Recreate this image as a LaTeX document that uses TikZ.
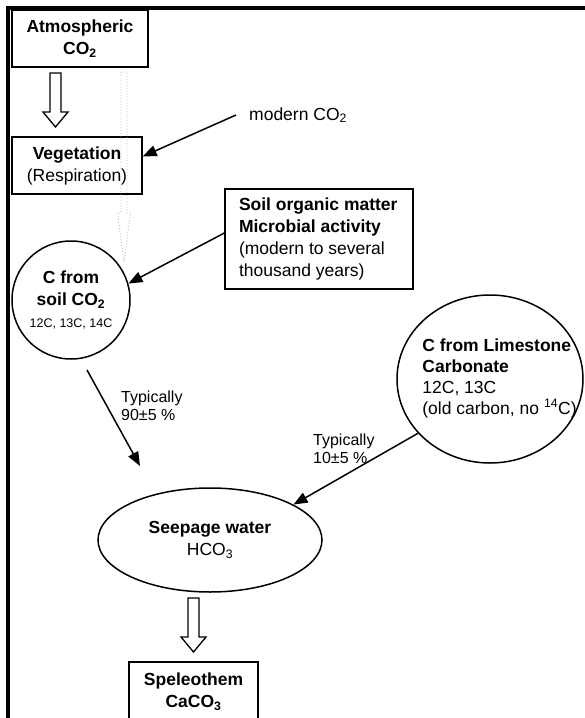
\documentclass[tikz,border=0pt]{standalone}
\usepackage{fontspec}
\setmainfont{Liberation Sans}
\usetikzlibrary{arrows.meta,shapes.geometric}
\newcommand\FntBig{\fontsize{17.5}{22}\selectfont}
\newcommand\FntLime{\fontsize{17.5}{21}\selectfont}
\newcommand\FntMid{\fontsize{16}{18}\selectfont}
\newcommand\FntSmall{\fontsize{12.5}{15}\selectfont}
\begin{document}
\begin{tikzpicture}[x={(1pt,0pt)}, y={(0pt,-1pt)},
  box/.style={draw, line width=1.3pt, rectangle, inner sep=0pt, align=center, font=\FntBig},
  rnd/.style={draw, line width=1.5pt, inner sep=0pt, align=center, font=\FntBig},
  conn/.style={line width=1.5pt, -{Triangle[length=14pt,width=11pt]}},
  blk/.style={draw, line width=1.3pt, fill=white},
  ghost/.style={draw=gray!55, dotted, line width=0.9pt},
  note/.style={inner sep=0pt, align=left, anchor=west}
]
\useasboundingbox (0,0) rectangle (585,718);
\draw[line width=4pt] (8,725) -- (8,8) -- (590,8);

% nodes
\node[box, minimum width=136pt, minimum height=57pt] (atm) at (80,38.5)
  {\textbf{Atmospheric}\\\textbf{CO\textsubscript{2}}};
\node[box, minimum width=130pt, minimum height=57pt] (veg) at (77,165.5)
  {\textbf{Vegetation}\\(Respiration)};
\node[box, minimum width=188pt, minimum height=100pt, text width=160pt, align=flush left] (som) at (319,239)
  {\textbf{Soil organic matter}\\\textbf{Microbial activity}\\(modern to several\\thousand years)};
\node[rnd, circle, minimum size=118pt] (soilc) at (71,300)
  {\textbf{C from}\\\textbf{soil CO\textsubscript{2}}\\{\FntSmall 12C, 13C, 14C}};
\node[rnd, ellipse, minimum width=186pt, minimum height=168pt] (lime) at (490,379) {};
\node[note, anchor=center, font=\FntLime] (limetxt) at (499.5,378)
  {\textbf{C from Limestone}\\\textbf{Carbonate}\\12C, 13C\\(old carbon, no \textsuperscript{14}C)};
\node[rnd, ellipse, minimum width=224pt, minimum height=104pt] (seep) at (210,540)
  {\textbf{Seepage water}\\HCO\textsubscript{3}};
\node[box, minimum width=129pt, minimum height=60pt] (spel) at (193.5,692)
  {\textbf{Speleothem}\\\textbf{CaCO\textsubscript{3}}};

\node[note, font=\FntBig] (modern) at (249,115) {modern CO\textsubscript{2}};
\node[note, font=\FntMid] (t90) at (121,406) {Typically\\90±5 \%};
\node[note, font=\FntMid] (t10) at (313,449) {Typically\\10±5 \%};

% block arrows
\draw[blk, shift={(55.5,73)}] (-5.5,0) -- (-5.5,39) -- (-12.5,39) -- (0,54) -- (12.5,39) -- (5.5,39) -- (5.5,0) -- cycle;
\draw[blk, shift={(193.5,598)}] (-5.5,0) -- (-5.5,39) -- (-12.5,39) -- (0,54) -- (12.5,39) -- (5.5,39) -- (5.5,0) -- cycle;
\draw[ghost, shift={(124,72)}] (-3,0) -- (-3,141) -- (-6.5,141) -- (0,190) -- (6.5,141) -- (3,141) -- (3,0) -- cycle;

% connectors
\coordinate (mstart) at ([xshift=-13pt]modern.west);
\draw[conn] (mstart) -- ([yshift=9pt]veg.east);
\draw[conn] ([yshift=6pt]som.west) -- (soilc.16);
\coordinate (s90) at (87,370);
\coordinate (e90) at (140,466);
\draw[conn] (s90) -- (e90);
\draw[conn] (lime.217) -- (seep.23);
\end{tikzpicture}
\end{document}
